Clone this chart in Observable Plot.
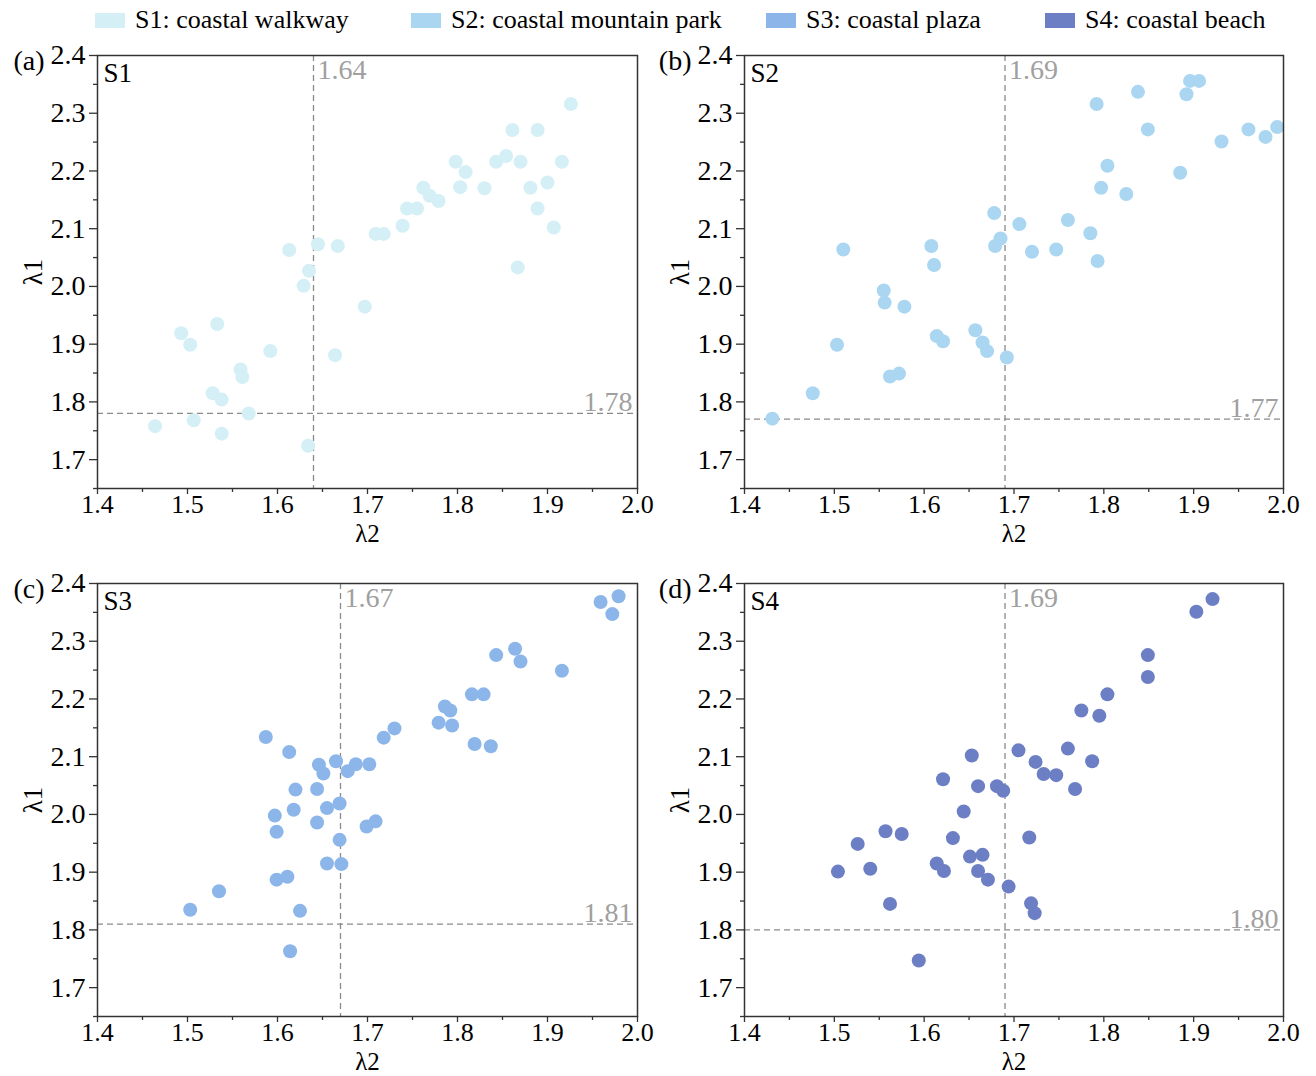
<!DOCTYPE html>
<html><head><meta charset="utf-8">
<script src="https://cdn.jsdelivr.net/npm/d3@7"></script>
<script src="https://cdn.jsdelivr.net/npm/@observablehq/plot@0.6"></script>
<style>
body{margin:0;background:#fff;overflow:hidden;font-family:"Liberation Serif","Times New Roman",serif;}
#wrap{position:relative;width:1316px;height:1076px;overflow:hidden;}
.leg{position:absolute;top:5px;display:flex;align-items:center;font-size:26px;color:#000;white-space:nowrap;}
.sw{width:30px;height:15px;margin-right:10px;}
svg.panel{position:absolute;overflow:visible;background:transparent;}
</style></head><body><div id="wrap"></div>
<script>
// ---------- data ----------
const seriesNames = ["S1: coastal walkway", "S2: coastal mountain park", "S3: coastal plaza", "S4: coastal beach"];
const seriesShort = ["S1", "S2", "S3", "S4"];
const panelLetters = ["(a)", "(b)", "(c)", "(d)"];
const colors = ["#d4eff5", "#aad6f2", "#8cb6ea", "#6c7fc4"];
const thresholdX = [1.64, 1.69, 1.67, 1.69];   // λ2 thresholds (vertical lines)
const thresholdY = [1.78, 1.77, 1.81, 1.80];   // λ1 thresholds (horizontal lines)
const xTicks = [1.4, 1.5, 1.6, 1.7, 1.8, 1.9, 2.0];
const xMinor = [1.45, 1.55, 1.65, 1.75, 1.85, 1.95];
const yTicks = [1.7, 1.8, 1.9, 2.0, 2.1, 2.2, 2.3, 2.4];
const yMinor = [1.65, 1.75, 1.85, 1.95, 2.05, 2.15, 2.25, 2.35];

// [λ2, λ1]
const s1 = [
  [1.464,1.758],[1.493,1.919],[1.503,1.899],[1.533,1.935],[1.507,1.768],[1.528,1.815],[1.538,1.804],
  [1.538,1.745],[1.559,1.856],[1.561,1.843],[1.568,1.780],[1.592,1.888],[1.613,2.063],[1.635,2.027],
  [1.629,2.001],[1.645,2.073],[1.634,1.724],[1.667,2.070],[1.664,1.881],[1.697,1.965],
  [1.709,2.091],[1.718,2.091],[1.739,2.105],[1.744,2.135],[1.755,2.135],[1.762,2.171],[1.769,2.157],
  [1.779,2.148],[1.798,2.216],[1.809,2.198],[1.803,2.172],[1.830,2.170],[1.843,2.216],[1.854,2.226],
  [1.861,2.271],[1.870,2.216],[1.881,2.171],[1.889,2.271],[1.889,2.135],[1.900,2.180],[1.916,2.216],
  [1.907,2.102],[1.867,2.033],[1.926,2.316]
];
const s2 = [
  [1.431,1.771],[1.476,1.815],[1.503,1.899],[1.510,2.064],[1.555,1.993],[1.556,1.972],[1.578,1.965],
  [1.562,1.844],[1.572,1.849],[1.608,2.070],[1.611,2.037],[1.614,1.914],[1.621,1.905],[1.657,1.924],
  [1.665,1.903],[1.670,1.888],[1.692,1.877],[1.678,2.127],[1.679,2.070],[1.685,2.083],[1.706,2.108],
  [1.720,2.060],[1.747,2.064],[1.760,2.115],[1.785,2.092],[1.793,2.044],[1.792,2.316],[1.797,2.171],
  [1.804,2.209],[1.825,2.160],[1.838,2.337],[1.849,2.272],[1.885,2.197],[1.892,2.333],[1.896,2.356],
  [1.906,2.356],[1.931,2.251],[1.961,2.272],[1.980,2.259],[1.993,2.276]
];
const s3 = [
  [1.503,1.835],[1.535,1.867],[1.587,2.134],[1.613,2.108],[1.597,1.998],[1.599,1.970],[1.599,1.887],
  [1.611,1.892],[1.625,1.833],[1.614,1.763],[1.620,2.043],[1.618,2.008],[1.644,1.986],[1.644,2.044],
  [1.646,2.086],[1.651,2.071],[1.655,2.011],[1.669,2.019],[1.665,2.092],[1.669,1.956],[1.655,1.915],
  [1.671,1.914],[1.678,2.075],[1.687,2.087],[1.702,2.087],[1.699,1.979],[1.709,1.988],[1.718,2.133],
  [1.730,2.149],[1.779,2.159],[1.786,2.187],[1.792,2.180],[1.794,2.154],[1.816,2.208],[1.829,2.208],
  [1.819,2.122],[1.837,2.118],[1.843,2.276],[1.864,2.287],[1.870,2.265],[1.916,2.249],[1.959,2.368],
  [1.972,2.347],[1.979,2.378]
];
const s4 = [
  [1.504,1.901],[1.526,1.949],[1.540,1.906],[1.557,1.971],[1.575,1.966],[1.562,1.845],[1.594,1.747],
  [1.614,1.915],[1.622,1.902],[1.621,2.061],[1.632,1.959],[1.644,2.005],[1.653,2.102],[1.660,2.049],
  [1.651,1.927],[1.665,1.930],[1.660,1.902],[1.671,1.887],[1.681,2.049],[1.688,2.041],[1.694,1.875],
  [1.705,2.111],[1.724,2.091],[1.733,2.070],[1.747,2.068],[1.760,2.114],[1.768,2.044],[1.787,2.092],
  [1.775,2.180],[1.795,2.171],[1.804,2.208],[1.849,2.276],[1.849,2.238],[1.903,2.351],[1.921,2.373],
  [1.717,1.960],[1.719,1.846],[1.723,1.829]
];
const seriesData = [s1, s2, s3, s4];

// ---------- layout ----------
const wrap = document.getElementById("wrap");
const legendPos = [95, 411, 766, 1045];
seriesNames.forEach((name, i) => {
  const d = document.createElement("div");
  d.className = "leg";
  d.style.left = legendPos[i] + "px";
  d.innerHTML = `<span class="sw" style="background:${colors[i]}"></span><span>${name}</span>`;
  wrap.appendChild(d);
});

const panelPos = [[0, 40], [647, 40], [0, 568], [647, 568]];
const mRight = [21, 22, 21, 22];
const gray = "#8a8a8a";
const labelGray = "#a0a0a0";
const FS = 27;

seriesData.forEach((data, i) => {
  const fmt = d3.format(".1f");
  const chart = Plot.plot({
    width: 658,
    height: 508,
    marginLeft: 97,
    marginRight: mRight[i],
    marginTop: 15,
    marginBottom: 60,
    x: {domain: [1.4, 2.0]},
    y: {domain: [1.65, 2.4]},
    style: {fontFamily: '"Liberation Serif","Times New Roman",serif', fontSize: FS + "px", color: "#000", background: "transparent", overflow: "visible"},
    marks: [
      Plot.ruleX([thresholdX[i]], {stroke: gray, strokeWidth: 1.3, strokeDasharray: "6,4"}),
      Plot.ruleY([thresholdY[i]], {stroke: gray, strokeWidth: 1.3, strokeDasharray: "6,4"}),
      Plot.dot(data, {x: d => d[0], y: d => d[1], r: 7, fill: colors[i], stroke: "none"}),
      Plot.frame({stroke: "#333", strokeWidth: 1.5}),
      Plot.axisX(xTicks, {tickSize: 6, tickPadding: 0, tickFormat: fmt, stroke: "#333", strokeWidth: 1.3, fontSize: 26, label: null}),
      Plot.axisX(xMinor, {tickSize: 4, tickFormat: () => "", stroke: "#333", strokeWidth: 1.3, label: null}),
      Plot.axisY(yTicks, {tickSize: 8, tickPadding: 4, tickFormat: fmt, stroke: "#333", strokeWidth: 1.3, fontSize: 28, label: null}),
      Plot.axisY(yMinor, {tickSize: 4, tickFormat: () => "", stroke: "#333", strokeWidth: 1.3, label: null}),
      Plot.text([thresholdX[i]], {x: d => d, frameAnchor: "top", dx: 4, dy: 15, textAnchor: "start", lineAnchor: "middle", fill: labelGray, fontSize: 28, text: d => d.toFixed(2)}),
      Plot.text([thresholdY[i]], {y: d => d, frameAnchor: "right", dx: -5, dy: -2, textAnchor: "end", lineAnchor: "bottom", fill: labelGray, fontSize: 28, text: d => d.toFixed(2)}),
      Plot.text([seriesShort[i]], {frameAnchor: "top-left", dx: 6, dy: 18, textAnchor: "start", lineAnchor: "middle", fill: "#000", fontSize: 27, text: d => d}),
      Plot.text([panelLetters[i]], {frameAnchor: "top-left", dx: -53, dy: 6, textAnchor: "end", lineAnchor: "middle", fill: "#000", fontSize: 28, text: d => d}),
      Plot.text(["λ1"], {frameAnchor: "left", dx: -64, rotate: -90, textAnchor: "middle", lineAnchor: "middle", fill: "#000", fontSize: 27, text: d => d}),
      Plot.text(["λ2"], {frameAnchor: "bottom", dy: 45, textAnchor: "middle", lineAnchor: "middle", fill: "#000", fontSize: 25, text: d => d})
    ]
  });
  chart.classList.add("panel");
  chart.style.left = panelPos[i][0] + "px";
  chart.style.top = panelPos[i][1] + "px";
  wrap.appendChild(chart);
});
</script>
</body></html>
